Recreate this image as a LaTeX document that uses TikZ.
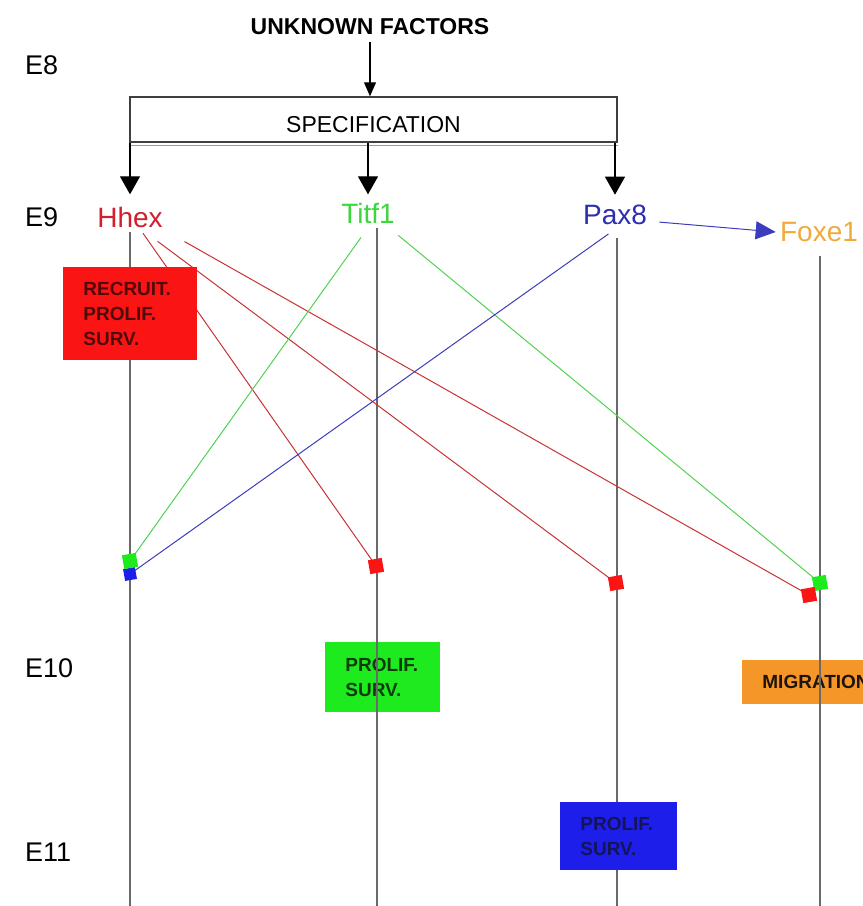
\documentclass[tikz,border=0pt]{standalone}
\usepackage{fontspec}
\setmainfont{Liberation Sans}
\usepackage{xcolor}
\usepackage{tikz}
\usetikzlibrary{arrows.meta,positioning}

\definecolor{hhexred}{RGB}{210,30,45}
\definecolor{titfgreen}{RGB}{60,215,60}
\definecolor{paxblue}{RGB}{45,45,175}
\definecolor{foxorange}{RGB}{240,170,60}
\definecolor{boxred}{RGB}{250,20,20}
\definecolor{boxgreen}{RGB}{30,235,30}
\definecolor{boxblue}{RGB}{30,30,235}
\definecolor{boxorange}{RGB}{245,150,40}
\definecolor{linkred}{RGB}{200,50,50}
\definecolor{linkgreen}{RGB}{80,210,80}
\definecolor{linkblue}{RGB}{60,60,190}
\definecolor{linegray}{RGB}{105,105,105}

\begin{document}
\begin{tikzpicture}[x=0.5pt,y=-0.5pt]

\tikzset{gene/.style={inner sep=2pt, font=\fontsize{14}{16}\selectfont},
stage/.style={anchor=west, font=\fontsize{13.5}{16}\selectfont},
stagebox/.style={anchor=north west, align=left, inner xsep=10pt, inner ysep=0pt, font=\fontsize{9.5}{12.5}\selectfont\bfseries},
timeline/.style={draw=linegray, line width=0.75pt},
hitsq/.style={rectangle, minimum size=7pt, inner sep=0pt, rotate=10},
bigtip/.style={-{Triangle[width=10pt,length=9pt]}, line width=0.6pt},
redlink/.style={draw=linkred, line width=0.5pt},
greenlink/.style={draw=linkgreen, line width=0.5pt},
bluelink/.style={draw=linkblue, line width=0.5pt}}

\useasboundingbox (0,0) rectangle (863,906);
\clip (0,0) rectangle (863,906);

\foreach \lab/\y in {E8/65, E9/217, E10/668, E11/852}
  \node[stage] (stage\lab) at (18,\y) {\lab};

\node[font=\fontsize{11.5}{14}\selectfont\bfseries] (unknown) at (370,27) {UNKNOWN FACTORS};
\node[draw=black!75, line width=0.75pt, minimum width=243.5pt, minimum height=22.5pt, inner sep=0pt,
  text height=12.5pt, text depth=0pt, font=\fontsize{11.5}{14}\selectfont] (spec) at (373.5,119.5) {SPECIFICATION};
\draw[black!40, line width=0.5pt] ([yshift=-1.2pt]spec.south west) -- ([yshift=-1.2pt]spec.south east);

\node[gene, text=hhexred] (hhex) at (130,217) {Hhex};
\node[gene, text=titfgreen] (titf1) at (368,213) {Titf1};
\node[gene, text=paxblue] (pax8) at (615,215) {Pax8};
\node[gene, text=foxorange] (foxe1) at (819,232) {Foxe1};

\draw[-{Triangle[width=6pt,length=7pt]}, line width=0.6pt] (unknown.south) -- (unknown.south |- spec.north);
\foreach \g/\s in {hhex/4pt, titf1/2pt, pax8/3pt}
  \draw[bigtip, shorten >=\s] (spec.south -| \g.north) -- (\g.north);

\draw[bluelink, -{Triangle[width=9pt,length=10pt]}, shorten <=4pt] (pax8.-10) -- (foxe1.west);

%the boxes that the time lines run through
\node[stagebox, fill=boxgreen, text={rgb,255:red,15;green,60;blue,15}, minimum width=57.5pt, text width=37.5pt, minimum height=35pt] (growbox) at (325,642) {PROLIF.\\SURV.};
\node[stagebox, fill=boxorange, text={rgb,255:red,30;green,20;blue,10}, minimum width=75pt, text width=55pt, minimum height=22pt] (migbox) at (742,660) {MIGRATION};

\coordinate (hhexEnd) at (130,906);
\coordinate (titf1End) at (377,906);
\coordinate (pax8End) at (617,906);
\coordinate (foxe1End) at (820,906);

\draw[timeline] (hhex.south) -- (hhexEnd);
\draw[timeline] (titf1.south -| titf1End) -- (titf1End);
\draw[timeline, shorten <=4.5pt] (pax8.south -| pax8End) -- (pax8End);
\draw[timeline, shorten <=5pt] (foxe1.south -| foxe1End) -- (foxe1End);

\coordinate (hhexG) at (130,561);
\coordinate (hhexB) at (130,574);
\coordinate (titf1R) at (376,566);
\coordinate (pax8R) at (616,583);
\coordinate (foxe1R) at (809,595);
\coordinate (foxe1G) at (820,583);

\draw[redlink, shorten <=1pt] (hhex.-51) -- (titf1R);
\draw[redlink, shorten <=8pt] (hhex.-45) -- (pax8R);
\draw[redlink, shorten <=10pt] (hhex.south east) -- (foxe1R);
\draw[greenlink, shorten <=6pt] (titf1.south) -- (hhexG);
\draw[greenlink, shorten <=6pt] (titf1.-35) -- (foxe1G);
\draw[bluelink, shorten <=4pt] (pax8.south) -- (hhexB);

\node[hitsq, fill=boxblue, minimum size=6pt] (sqHhexB) at (hhexB) {};
\node[hitsq, fill=boxgreen] (sqHhexG) at (hhexG) {};
\node[hitsq, fill=boxred] (sqTitf1R) at (titf1R) {};
\node[hitsq, fill=boxred] (sqPax8R) at (pax8R) {};
\node[hitsq, fill=boxgreen] (sqFoxe1G) at (foxe1G) {};
\node[hitsq, fill=boxred] (sqFoxe1R) at (foxe1R) {};

%boxes that sit on top of the lines
\node[stagebox, fill=boxred, text={rgb,255:red,80;green,10;blue,10}, minimum width=67pt, text width=47pt, minimum height=46.5pt] (hhexbox) at (63,267) {RECRUIT.\\PROLIF.\\SURV.};
\node[stagebox, fill=boxblue, text={rgb,255:red,20;green,20;blue,90}, minimum width=58.5pt, text width=38.5pt, minimum height=34pt] (paxbox) at (560,802) {PROLIF.\\SURV.};

\end{tikzpicture}
\end{document}
